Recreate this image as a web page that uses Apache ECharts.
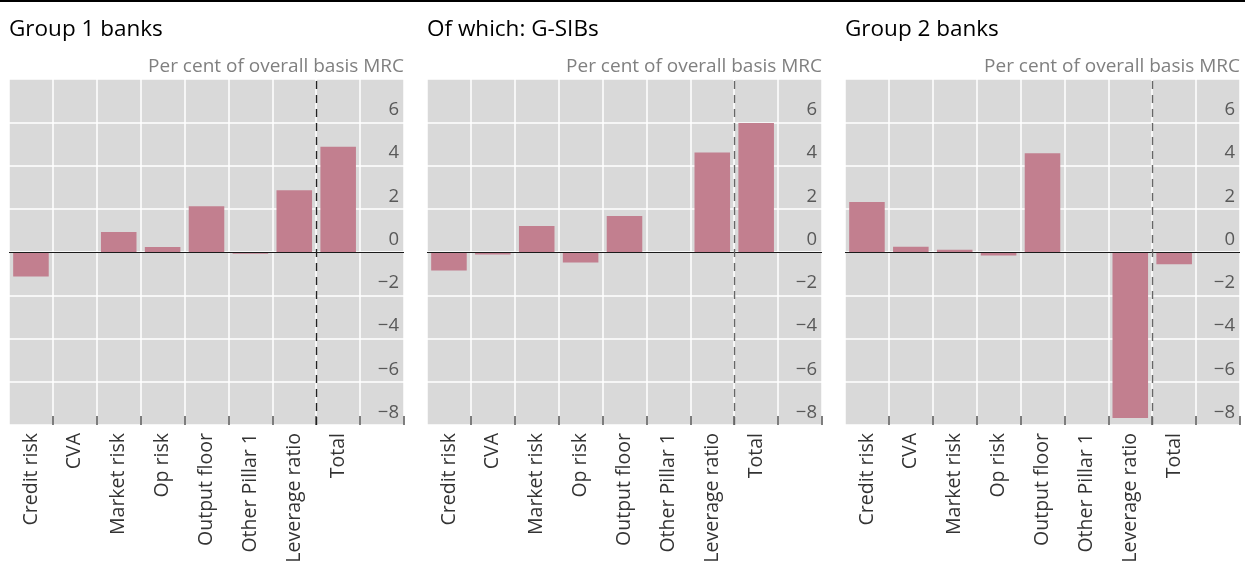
<!DOCTYPE html>
<html>
<head>
<meta charset="utf-8">
<script src="https://cdn.jsdelivr.net/npm/echarts@6/dist/echarts.min.js"></script>
<style>
  html, body { margin: 0; padding: 0; background: #fff; }
  #chart { width: 1245px; height: 561px; }
</style>
</head>
<body>
<div id="chart"></div>
<script>
// categories and values (per cent of overall basis MRC)
const categories = ['Credit risk', 'CVA', 'Market risk', 'Op risk', 'Output floor', 'Other Pillar 1', 'Leverage ratio', 'Total']
const panelTitles = ['Group 1 banks', 'Of which: G-SIBs', 'Group 2 banks']
const group1 = [-1.13, 0, 0.92, 0.23, 2.11, -0.08, 2.85, 4.87]
const gsibs = [-0.86, -0.12, 1.2, -0.49, 1.66, -0.03, 4.6, 5.97]
const group2 = [2.31, 0.24, 0.1, -0.16, 4.57, 0, -7.68, -0.57]
const yTicks = { min: -8, max: 8, interval: 2 }
const unitLabel = 'Per cent of overall basis MRC'
const dashedAfter = 7 // dashed separator between the components and the total

const seriesData = [group1, gsibs, group2]
const panelLeft = [9, 427, 845]
const panelWidth = 395
const dashColor = ['#222', '#666', '#666']
const W = 1245

const font = '"Open Sans", "DejaVu Sans", sans-serif'
const barColor = '#c27f8f'

const chart = echarts.init(document.getElementById('chart'), null, { renderer: 'canvas' })

const title = []
const grid = []
const xAxis = []
const yAxis = []
const series = []

panelTitles.forEach((name, i) => {
  const left = panelLeft[i]
  title.push({
    text: name, left: left, top: 18, padding: 0,
    textStyle: { fontFamily: font, fontSize: 22.5, fontWeight: 'normal', color: '#000' }
  })
  title.push({
    text: unitLabel, right: W - left - panelWidth, top: 57, padding: 0,
    textStyle: { fontFamily: font, fontSize: 19, fontWeight: 'normal', color: '#808080' }
  })
  grid.push({
    left: left, width: panelWidth, top: 79, bottom: 136,
    outerBoundsMode: 'none', containLabel: false,
    show: true, backgroundColor: '#d9d9d9', borderWidth: 0
  })
  // category axis, with one spare slot on the right for the inside y labels
  xAxis.push({
    type: 'category', gridIndex: i,
    data: categories.concat(['']),
    axisLine: { show: false, onZero: false },
    axisTick: {
      show: true, inside: true, length: 9,
      interval: idx => idx > 0 && idx <= categories.length,
      lineStyle: { color: '#555', width: 1.5 }
    },
    splitLine: { show: true, lineStyle: { color: '#fff', width: 1.5 } },
    axisLabel: {
      rotate: 90, margin: 8, fontFamily: font, fontSize: 19.5, color: '#333'
    }
  })
  // hidden value axis used to place the dashed separator on a category boundary
  xAxis.push({
    type: 'value', gridIndex: i, show: false,
    min: 0, max: categories.length + 1
  })
  yAxis.push({
    type: 'value', gridIndex: i, position: 'right',
    min: yTicks.min, max: yTicks.max, interval: yTicks.interval,
    axisLine: { show: false },
    axisTick: { show: false },
    splitLine: { show: true, lineStyle: { color: '#fff', width: 1.5 } },
    axisLabel: {
      inside: true, margin: 5, showMaxLabel: false,
      verticalAlign: 'bottom', padding: [0, 0, 3, 0],
      fontFamily: font, fontSize: 18.5, color: '#595959',
      formatter: v => String(v).replace('-', '\u2212')
    }
  })
  series.push({
    type: 'bar', xAxisIndex: i * 2, yAxisIndex: i,
    data: seriesData[i],
    barWidth: '81%',
    itemStyle: { color: barColor },
    markLine: {
      silent: true, symbol: 'none', label: { show: false },
      lineStyle: { color: '#1a1a1a', width: 1.2, type: 'solid' },
      data: [{ yAxis: 0 }]
    }
  })
  series.push({
    type: 'line', xAxisIndex: i * 2 + 1, yAxisIndex: i,
    data: [[dashedAfter, 0]], symbol: 'none', lineStyle: { opacity: 0 },
    markLine: {
      silent: true, symbol: 'none', label: { show: false },
      lineStyle: { color: dashColor[i], width: 1.4, type: [8, 6] },
      data: [{ xAxis: dashedAfter }]
    }
  })
})

chart.setOption({
  animation: false,
  backgroundColor: '#fff',
  title, grid, xAxis, yAxis, series,
  graphic: [{
    type: 'rect', left: 0, top: 0,
    shape: { width: W, height: 2 },
    style: { fill: '#000' }
  }]
})
</script>
</body>
</html>
